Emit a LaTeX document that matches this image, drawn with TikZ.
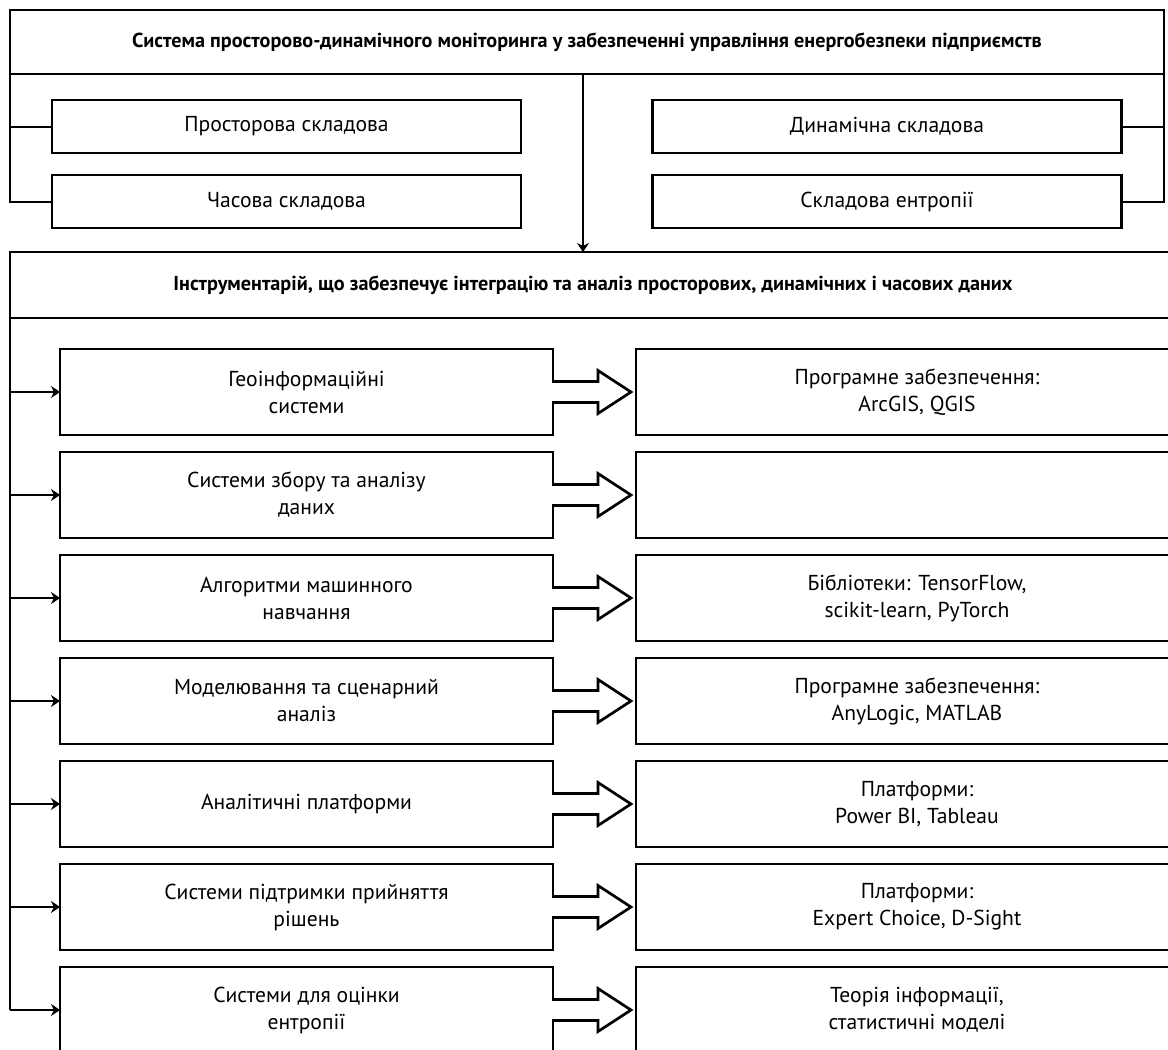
\documentclass[tikz,border=0pt]{standalone}
\usepackage{fontspec}
\setmainfont{PT Sans}
\usetikzlibrary{calc,arrows.meta}
\begin{document}
\begin{tikzpicture}[x=0.5pt,y=-0.5pt,font=\fontsize{10.8}{13.5}\selectfont,
  bline/.style={line width=1.35pt},
  box/.style={draw,bline,inner sep=0pt,outer sep=0pt,align=center},
  head/.style={font=\fontsize{10.1}{12}\selectfont\bfseries},
  link/.style={line width=1pt},
  tip/.style={link,-{Stealth[length=4.5pt,width=6pt]}}]
\useasboundingbox (0,0) rectangle (1168,1050);
\clip (0,0) rectangle (1168,1050);

\begin{scope}
\node[box,head,minimum width=577pt,minimum height=32pt] (sys) at (587,42)
  {Система просторово-динамічного моніторинга у забезпеченні управління енергобезпеки підприємств};
\node[box,minimum width=234.5pt,minimum height=26.5pt] (spat) at (286.5,126.5) {Просторова складова};
\node[box,minimum width=234.5pt,minimum height=26.5pt] (time) at (286.5,201.5) {Часова складова};
\node[box,minimum width=234.5pt,minimum height=26.5pt] (dyn) at (887,126.5) {Динамічна складова};
\node[box,minimum width=234.5pt,minimum height=26.5pt] (entr) at (887,201.5) {Складова ентропії};

\draw[link] (sys.south west) -- (sys.south west |- time.west) -- (time.west);
\draw[link] (sys.south west |- spat.west) -- (spat.west);
\draw[link] (sys.south east) -- (sys.south east |- entr.east) -- (entr.east);
\draw[link] (sys.south east |- dyn.east) -- (dyn.east);
\end{scope}

\node[box,head,minimum width=583pt,minimum height=33pt] (tools) at (593,285)
  {Інструментарій, що забезпечує інтеграцію та аналіз просторових, динамічних і часових даних};
\draw[tip] ($(sys.south)+(-4,0)$) -- ($(sys.south |- tools.north)+(-4,0)$);

\foreach \i/\lt/\rt in {0/{Геоінформаційні\\системи}/{Програмне забезпечення:\\ArcGIS, QGIS},
  1/{Системи збору та аналізу\\даних}/{},
  2/{Алгоритми машинного\\навчання}/{Бібліотеки: TensorFlow,\\scikit-learn, PyTorch},
  3/{Моделювання та сценарний\\аналіз}/{Програмне забезпечення:\\AnyLogic, MATLAB},
  4/{Аналітичні платформи}/{Платформи:\\Power BI, Tableau},
  5/{Системи підтримки прийняття\\рішень}/{Платформи:\\Expert Choice, D-Sight},
  6/{Системи для оцінки\\ентропії}/{Теорія інформації,\\статистичні моделі}}{
  \node[box,minimum width=246.5pt,minimum height=43pt] (l\i) at (306.5,{392+103*\i}) {\lt};
  \node[box,minimum width=281pt,minimum height=43pt] (r\i) at (917,{392+103*\i}) {\rt};
  \draw[tip] (tools.south west |- l\i.west) -- (l\i.west);
  \fill[white] ($(l\i.east)+(-2,-9.2)$) rectangle ($(l\i.east)+(2,9.2)$);
  \draw[bline] ($(l\i.east)+(0,-10.5)$) -- ++(45,0) -- ++(0,-11) -- ($(r\i.west)+(-5,0)$)
    -- ($(l\i.east)+(45,21.5)$) -- ++(0,-11) -- ++(-45,0);
}
\draw[link] (tools.south west) -- (tools.south west |- l6.west);

\end{tikzpicture}
\end{document}
